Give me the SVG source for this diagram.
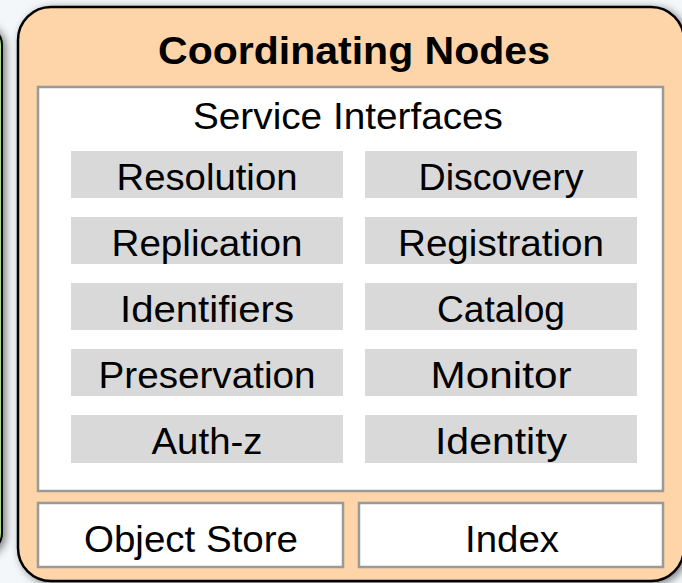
<svg xmlns="http://www.w3.org/2000/svg" width="682" height="583" viewBox="0 0 682 583">
<defs>
<filter id="sh" x="-10%" y="-10%" width="120%" height="120%">
<feGaussianBlur in="SourceAlpha" stdDeviation="4"/>
<feOffset dx="3" dy="2" result="b"/>
<feComponentTransfer><feFuncA type="linear" slope="0.5"/></feComponentTransfer>
<feMerge><feMergeNode/><feMergeNode in="SourceGraphic"/></feMerge>
</filter>
<style>
.t{font-family:"Liberation Sans",Arial,sans-serif;font-size:37px;fill:#000;text-anchor:middle}
.b{font-weight:bold;font-size:38px}
.cell{fill:#d9d9d9}
.panel{fill:#fff;stroke:#9a9a9a;stroke-width:2.5}
</style>
</defs>
<rect x="0" y="0" width="682" height="583" fill="#f4f7f9"/>
<g id="left-node">
<rect x="-100" y="25" width="102" height="528" rx="20" fill="#a8e08a" stroke="#000" stroke-width="2" filter="url(#sh)"/>
</g>
<g id="coordinating-nodes">
<rect x="18" y="7" width="666" height="574" rx="33" fill="#fdd5a9" stroke="#000" stroke-width="2.5" filter="url(#sh)"/>
<text class="t b" x="354" y="64" textLength="392" lengthAdjust="spacingAndGlyphs">Coordinating Nodes</text>
</g>
<g id="service-interfaces">
<rect class="panel" x="38" y="87" width="625" height="404"/>
<text class="t" x="348" y="129" textLength="310" lengthAdjust="spacingAndGlyphs">Service Interfaces</text>
</g>
<g id="resolution"><rect class="cell" x="71" y="151" width="272" height="47"/><text class="t" x="207" y="190" textLength="181" lengthAdjust="spacingAndGlyphs">Resolution</text></g>
<g id="discovery"><rect class="cell" x="365" y="151" width="272" height="47"/><text class="t" x="501" y="190" textLength="165" lengthAdjust="spacingAndGlyphs">Discovery</text></g>
<g id="replication"><rect class="cell" x="71" y="217" width="272" height="47"/><text class="t" x="207" y="256" textLength="191" lengthAdjust="spacingAndGlyphs">Replication</text></g>
<g id="registration"><rect class="cell" x="365" y="217" width="272" height="47"/><text class="t" x="501" y="256" textLength="206" lengthAdjust="spacingAndGlyphs">Registration</text></g>
<g id="identifiers"><rect class="cell" x="71" y="283" width="272" height="47"/><text class="t" x="207" y="322" textLength="174" lengthAdjust="spacingAndGlyphs">Identifiers</text></g>
<g id="catalog"><rect class="cell" x="365" y="283" width="272" height="47"/><text class="t" x="501" y="322" textLength="128" lengthAdjust="spacingAndGlyphs">Catalog</text></g>
<g id="preservation"><rect class="cell" x="71" y="349" width="272" height="47"/><text class="t" x="207" y="388" textLength="217" lengthAdjust="spacingAndGlyphs">Preservation</text></g>
<g id="monitor"><rect class="cell" x="365" y="349" width="272" height="47"/><text class="t" x="501" y="388" textLength="141" lengthAdjust="spacingAndGlyphs">Monitor</text></g>
<g id="auth-z"><rect class="cell" x="71" y="415" width="272" height="48"/><text class="t" x="207" y="454" textLength="111" lengthAdjust="spacingAndGlyphs">Auth-z</text></g>
<g id="identity"><rect class="cell" x="365" y="415" width="272" height="48"/><text class="t" x="501" y="454" textLength="132" lengthAdjust="spacingAndGlyphs">Identity</text></g>
<g id="object-store"><rect class="panel" x="38" y="503" width="305" height="64"/><text class="t" x="191" y="552" textLength="214" lengthAdjust="spacingAndGlyphs">Object Store</text></g>
<g id="index"><rect class="panel" x="359" y="503" width="304" height="64"/><text class="t" x="512" y="552" textLength="94" lengthAdjust="spacingAndGlyphs">Index</text></g>
<g id="connectors"/>
</svg>
